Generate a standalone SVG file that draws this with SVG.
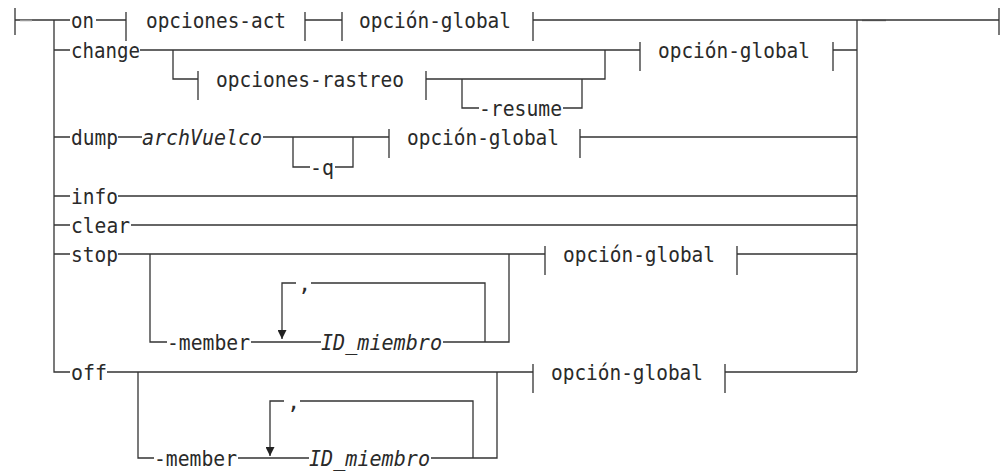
<svg xmlns="http://www.w3.org/2000/svg" width="1002" height="471" viewBox="0 0 1002 471">
<style>
  .ln{fill:none;stroke:#333;stroke-width:1.3}
  .bar{fill:none;stroke:#333;stroke-width:1.3}
  .dash{fill:none;stroke:#999;stroke-width:1.6}
  text{font-family:"DejaVu Sans Mono","Liberation Mono",monospace;font-size:22px;fill:#2a2a2a}
  .it{font-style:italic}
</style>
<defs>
  <marker id="arr" viewBox="0 0 10 10" refX="10" refY="5" markerWidth="9" markerHeight="9" markerUnits="userSpaceOnUse" orient="auto">
    <path d="M0,0 L10,5 L0,10 z" fill="#222"/>
  </marker>
</defs>
<rect width="1002" height="471" fill="#fff"/>
<g id="connectors">
  <path class="ln" d="M15,8 V35 M15,20 H70"/>
  <path class="dash" d="M20,20.5 H32 M862,20.5 H886"/>
  <path class="ln" d="M54,20 V372 H70 M54,50 H70 M54,137 H70 M54,196 H70 M54,225 H70 M54,254 H70"/>
  <path class="ln" d="M857,20 V372"/>
  <path class="ln" d="M96,20 H126 M305,20 H342 M533,20 H999 M999,8 V35"/>
  <path class="ln" d="M140,50 H640 M833,50 H857 M173,50 V79 H198 M426,79 H605 V50 M462,79 V108 H479 M563,108 H582 V79"/>
  <path class="ln" d="M118,137 H142 M263,137 H389 M293,137 V167 H310 M335,167 H353 V137 M580,137 H857"/>
  <path class="ln" d="M118,196 H857"/>
  <path class="ln" d="M131,225 H857"/>
  <path class="ln" d="M118,254 H545 M737,254 H857 M150,254 V342 H167 M251,342 H321 M443,342 H509 V254 M485,342 V283 H311"/>
  <path class="ln" d="M296,283 H282 V339" marker-end="url(#arr)"/>
  <path class="ln" d="M107,372 H533 M725,372 H857 M138,372 V458 H154 M238,458 H309 M431,458 H497 V372 M473,458 V401 H300"/>
  <path class="ln" d="M284,401 H270 V456" marker-end="url(#arr)"/>
</g>
<g id="node-on"><text x="71" y="28" textLength="23" lengthAdjust="spacingAndGlyphs">on</text></g>
<g id="node-opciones-act">
  <path class="bar" d="M126,12 V41 M305,12 V41"/>
  <text x="146" y="28" textLength="140" lengthAdjust="spacingAndGlyphs">opciones-act</text>
</g>
<g id="node-global-1">
  <path class="bar" d="M342,12 V41 M533,12 V41"/>
  <text x="359" y="28" textLength="152" lengthAdjust="spacingAndGlyphs">opción-global</text>
</g>
<g id="node-change"><text x="71" y="58" textLength="69" lengthAdjust="spacingAndGlyphs">change</text></g>
<g id="node-opciones-rastreo">
  <path class="bar" d="M198,71 V100 M426,71 V100"/>
  <text x="216" y="87" textLength="188" lengthAdjust="spacingAndGlyphs">opciones-rastreo</text>
</g>
<g id="node-resume"><text x="479" y="116" textLength="83" lengthAdjust="spacingAndGlyphs">-resume</text></g>
<g id="node-global-2">
  <path class="bar" d="M640,42 V71 M833,42 V71"/>
  <text x="658" y="58" textLength="152" lengthAdjust="spacingAndGlyphs">opción-global</text>
</g>
<g id="node-dump"><text x="71" y="145" textLength="47" lengthAdjust="spacingAndGlyphs">dump</text></g>
<g id="node-archVuelco"><text class="it" x="142" y="145" textLength="120" lengthAdjust="spacingAndGlyphs">archVuelco</text></g>
<g id="node-q"><text x="310" y="175" textLength="24" lengthAdjust="spacingAndGlyphs">-q</text></g>
<g id="node-global-3">
  <path class="bar" d="M389,129 V158 M580,129 V158"/>
  <text x="407" y="145" textLength="152" lengthAdjust="spacingAndGlyphs">opción-global</text>
</g>
<g id="node-info"><text x="71" y="204" textLength="47" lengthAdjust="spacingAndGlyphs">info</text></g>
<g id="node-clear"><text x="71" y="233" textLength="59" lengthAdjust="spacingAndGlyphs">clear</text></g>
<g id="node-stop"><text x="71" y="262" textLength="47" lengthAdjust="spacingAndGlyphs">stop</text></g>
<g id="node-member-1"><text x="167" y="350" textLength="83" lengthAdjust="spacingAndGlyphs">-member</text></g>
<g id="node-comma-1"><text x="298" y="291">,</text></g>
<g id="node-id-1"><text class="it" x="321" y="350" textLength="121" lengthAdjust="spacingAndGlyphs">ID_miembro</text></g>
<g id="node-global-4">
  <path class="bar" d="M545,246 V275 M737,246 V275"/>
  <text x="563" y="262" textLength="152" lengthAdjust="spacingAndGlyphs">opción-global</text>
</g>
<g id="node-off"><text x="71" y="380" textLength="36" lengthAdjust="spacingAndGlyphs">off</text></g>
<g id="node-member-2"><text x="154" y="466" textLength="83" lengthAdjust="spacingAndGlyphs">-member</text></g>
<g id="node-comma-2"><text x="287" y="409">,</text></g>
<g id="node-id-2"><text class="it" x="309" y="466" textLength="121" lengthAdjust="spacingAndGlyphs">ID_miembro</text></g>
<g id="node-global-5">
  <path class="bar" d="M533,364 V393 M725,364 V393"/>
  <text x="551" y="380" textLength="152" lengthAdjust="spacingAndGlyphs">opción-global</text>
</g>
</svg>
